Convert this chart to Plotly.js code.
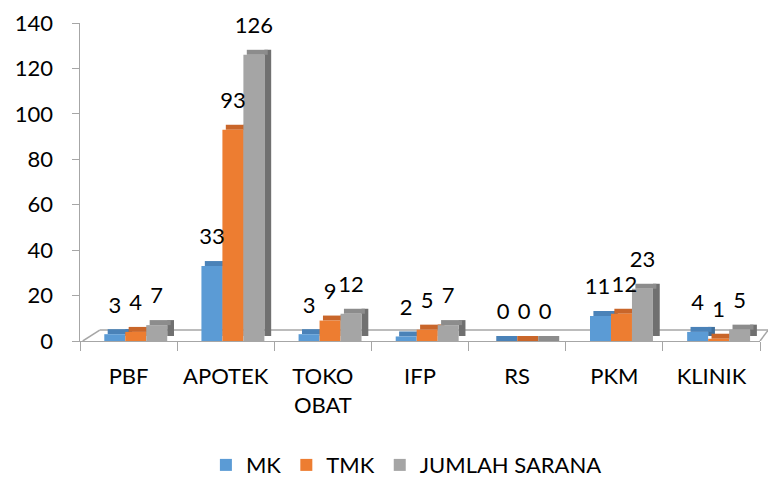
<!DOCTYPE html>
<html>
<head>
<meta charset="utf-8">
<script src="https://cdn.plot.ly/plotly-3.0.1.min.js"></script>
<style>
  html, body { margin: 0; padding: 0; background: #fff; }
  #grafico { width: 768px; height: 478px; }
</style>
</head>
<body>
<div id="grafico"></div>
<script>
// data
const categories = ['PBF', 'APOTEK', 'TOKO<br>OBAT', 'IFP', 'RS', 'PKM', 'KLINIK'];
const mk = [3, 33, 3, 2, 0, 11, 4];
const tmk = [4, 93, 9, 5, 0, 12, 1];
const jumlahSarana = [7, 126, 12, 7, 0, 23, 5];
const seriesNames = ['MK', 'TMK', 'JUMLAH SARANA'];
const yTicks = [0, 20, 40, 60, 80, 100, 120, 140];

document.addEventListener('DOMContentLoaded', () => {
    const graficoDiv = document.getElementById('grafico');

    // look of the fake 3D bars
    const frontColors = ['#5B9BD5', '#ED7D31', '#A5A5A5'];
    const sideColors = ['#3F6F9C', '#A9561F', '#707070'];
    const topColors = ['#4A82B8', '#C9662A', '#8C8C8C'];
    const offsets = [-0.25, -0.034, 0.182];
    const w = 0.216;     // bar width (category units)
    const d = 0.07;      // depth in x
    const dd = 2.2;      // depth in y (value units)
    const lift = 6;      // label lift above bar
    // small sideways nudge of labels so "11" and "12" (PKM) don't collide
    const nudge = [-0.03, 0.03, 0];

    const allSeries = [mk, tmk, jumlahSarana];
    const traces = [];

    allSeries.forEach((vals, i) => {
        const common = { type: 'bar', x: categories, hoverinfo: 'skip', legendgroup: 's' + i, showlegend: false };
        // side face
        traces.push({ ...common, y: vals, base: dd, offset: offsets[i] + w, width: d,
            marker: { color: sideColors[i], line: { width: 0 } } });
        // top face
        traces.push({ ...common, y: vals.map(() => dd), base: vals, offset: offsets[i] + d / 2, width: w,
            marker: { color: topColors[i], line: { width: 0 } } });
        // front face
        traces.push({ ...common, y: vals, base: 0, offset: offsets[i], width: w, name: seriesNames[i],
            showlegend: true, marker: { color: frontColors[i], line: { width: 0 } } });
    });

    // value labels
    allSeries.forEach((vals, i) => {
        traces.push({
            type: 'bar', x: categories, y: vals.map(() => lift), base: vals,
            offset: categories.map((c, k) => offsets[i] + (k === 5 ? nudge[i] : 0)),
            width: w, showlegend: false, hoverinfo: 'skip',
            marker: { color: 'rgba(0,0,0,0)' },
            text: vals.map(String), textposition: 'outside', constraintext: 'none',
            textfont: { family: 'Lato, sans-serif', size: 22, color: '#000' },
            cliponaxis: false
        });
    });

    const gris = '#A6A6A6';
    const layout = {
        width: 768, height: 478,
        margin: { l: 80, r: 8, t: 23, b: 137 },
        barmode: 'overlay',
        plot_bgcolor: '#ffffff',
        paper_bgcolor: '#ffffff',
        font: { family: 'Lato, sans-serif', size: 22, color: '#000' },
        xaxis: {
            type: 'category', range: [-0.5, 6.5], showgrid: false, zeroline: false,
            showline: true, linecolor: gris, linewidth: 1,
            ticks: 'outside', tickson: 'boundaries', ticklen: 9, tickcolor: gris,
            ticklabelstandoff: 16, tickfont: { size: 22 }
        },
        yaxis: {
            range: [0, 140], tickvals: yTicks, showgrid: false, zeroline: false,
            showline: true, linecolor: gris, linewidth: 1.5,
            ticks: 'outside', ticklen: 7, tickcolor: gris,
            ticklabelstandoff: 14, tickfont: { size: 22 }
        },
        shapes: [
            // floor back edge and sides
            { type: 'line', layer: 'below', xref: 'paper', yref: 'y', x0: 0.029, x1: 1.012, y0: 4.8, y1: 4.8, line: { color: gris, width: 1.5 } },
            { type: 'line', layer: 'below', xref: 'paper', yref: 'y', x0: 0.004, x1: 0.029, y0: 0, y1: 4.8, line: { color: gris, width: 1.5 } },
            { type: 'line', layer: 'below', xref: 'paper', yref: 'y', x0: 1.0, x1: 1.012, y0: 0, y1: 4.8, line: { color: gris, width: 1.5 } }
        ],
        showlegend: true,
        legend: {
            orientation: 'h', x: 0.48, xanchor: 'center',
            yref: 'container', y: 0.027, yanchor: 'middle',
            font: { size: 22 }, traceorder: 'normal', itemclick: false
        }
    };

    Plotly.newPlot(graficoDiv, traces, layout, { displayModeBar: false, staticPlot: true });
});
</script>
</body>
</html>
